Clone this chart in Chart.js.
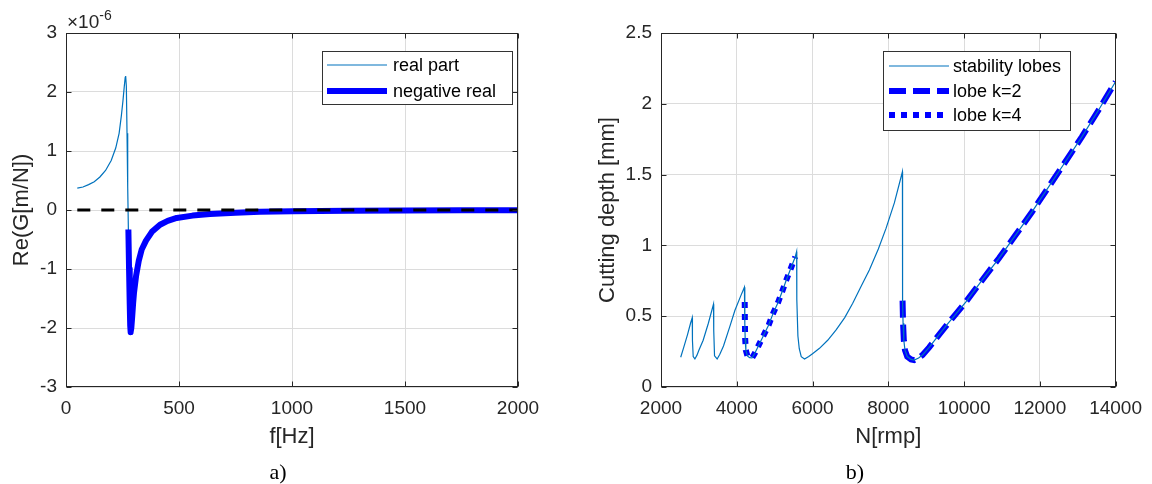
<!DOCTYPE html>
<html>
<head>
<meta charset="utf-8">
<script src="https://cdn.jsdelivr.net/npm/chart.js@4.4.0/dist/chart.umd.min.js"></script>
<style>
  html, body { margin: 0; padding: 0; background: #fff; }
  #wrap { position: relative; width: 1152px; height: 484px; overflow: hidden; }
  canvas { position: absolute; top: 0; }
  #cA { left: 0; }
  #cB { left: 560px; }
  .cap { position: absolute; top: 461px; width: 60px; text-align: center;
         font: 22px/22px "Liberation Serif", "DejaVu Serif", serif; color: #000; }
</style>
</head>
<body>
<div id="wrap">
  <canvas id="cA" width="560" height="484"></canvas>
  <canvas id="cB" width="592" height="484"></canvas>
  <div class="cap" style="left:248px">a)</div>
  <div class="cap" style="left:825px">b)</div>
</div>
<script>
// ---- DATA ----
// a) real part of the FRF, values in 1e-6 m/N
const fTicks = [0, 500, 1000, 1500, 2000];
const gTicks = [-3, -2, -1, 0, 1, 2, 3];

const realF = [50, 75, 100, 125, 150, 175, 200, 220, 235, 245, 252, 258, 262, 264, 267, 270, 273,
  276, 279, 282, 284, 286, 289, 293, 297, 301, 310, 322, 335, 354, 380, 416, 450, 490, 560, 637,
  750, 858, 1000, 1250, 1500, 1750, 2000];
const realG = [0.37, 0.39, 0.43, 0.48, 0.56, 0.67, 0.84, 1.05, 1.30, 1.60, 1.85, 2.10, 2.25, 2.27, 2.10, 1.30, 0.40,
  -0.33, -1.00, -1.60, -1.95, -2.07, -2.00, -1.80, -1.58, -1.40, -1.12, -0.86, -0.67, -0.52, -0.37, -0.25, -0.185, -0.135, -0.095, -0.068,
  -0.045, -0.030, -0.020, -0.012, -0.008, -0.005, -0.004];

const negF = [276, 279, 282, 284, 286, 289, 293, 297, 301, 310, 322, 335, 354, 380, 416, 450, 490, 560, 637,
  750, 858, 1000, 1250, 1500, 1750, 2000];
const negG = [-0.33, -1.00, -1.60, -1.95, -2.07, -2.00, -1.80, -1.58, -1.40, -1.12, -0.86, -0.67, -0.52, -0.37, -0.25, -0.185, -0.135, -0.095, -0.068,
  -0.045, -0.030, -0.020, -0.012, -0.008, -0.005, -0.004];

const zeroF = [50, 2000];
const zeroG = [0, 0];

// b) stability lobes
const nTicks = [2000, 4000, 6000, 8000, 10000, 12000, 14000];
const dTicks = [0, 0.5, 1, 1.5, 2, 2.5];

const lobeN = [2520, 2600, 2700, 2780, 2825, 2830, 2850, 2895, 2950, 3000, 3113, 3250, 3386, 3392, 3413,
  3482, 3550, 3650, 3816, 3950, 4100, 4202, 4210, 4215, 4222, 4240, 4280, 4340, 4403, 4480,
  4561, 4700, 4842, 4960, 5087, 5200, 5308, 5430, 5545, 5580, 5585, 5614, 5650, 5702, 5789,
  5900, 6000, 6184, 6400, 6623, 6850, 7061, 7280, 7500, 7737, 7940, 8160, 8373, 8377, 8390,
  8410, 8440, 8500, 8600, 8684, 8800, 8903, 9079, 9300, 9550, 9782, 10044, 10482, 10921, 11360,
  11798, 12237, 12675, 13113, 13552, 13947, 14000];
const lobeD = [0.21, 0.28, 0.37, 0.45, 0.49, 0.33, 0.215, 0.198, 0.225, 0.26, 0.33, 0.45, 0.585, 0.40, 0.22,
  0.198, 0.23, 0.29, 0.426, 0.54, 0.64, 0.705, 0.60, 0.45, 0.34, 0.26, 0.22, 0.207, 0.205, 0.24,
  0.285, 0.36, 0.438, 0.52, 0.595, 0.675, 0.756, 0.84, 0.92, 0.956, 0.62, 0.36, 0.27, 0.214, 0.198,
  0.215, 0.235, 0.273, 0.33, 0.403, 0.49, 0.591, 0.71, 0.826, 0.975, 1.12, 1.30, 1.52, 0.61, 0.45,
  0.33, 0.26, 0.215, 0.195, 0.19, 0.205, 0.226, 0.28, 0.355, 0.44, 0.515, 0.60, 0.756, 0.909, 1.073,
  1.238, 1.415, 1.591, 1.768, 1.956, 2.133, 2.155];

const k4N = [4210, 4215, 4222, 4240, 4280, 4340, 4403, 4480, 4561, 4700, 4842, 4960, 5087, 5200, 5308, 5430, 5545];
const k4D = [0.60, 0.45, 0.34, 0.26, 0.22, 0.207, 0.205, 0.24, 0.285, 0.36, 0.438, 0.52, 0.595, 0.675, 0.756, 0.84, 0.92];

const k2N = [8377, 8390, 8410, 8440, 8500, 8600, 8684, 8800, 8903, 9079, 9300, 9550, 9782, 10044, 10482,
  10921, 11360, 11798, 12237, 12675, 13113, 13552, 13947, 14000];
const k2D = [0.61, 0.45, 0.33, 0.26, 0.215, 0.195, 0.19, 0.205, 0.226, 0.28, 0.355, 0.44, 0.515, 0.60, 0.756,
  0.909, 1.073, 1.238, 1.415, 1.591, 1.768, 1.956, 2.133, 2.155];

// ---- UTILS ----
const INK = '#262626';
Chart.defaults.font.family = '"Liberation Sans", Arial, sans-serif';
Chart.defaults.color = INK;

function pts(xs, ys) {
  return xs.map((x, i) => ({ x: x, y: ys[i] }));
}

// box round the axes, inward ticks, legend and exponent label
const frame = {
  id: 'frame',
  afterDatasetsDraw(chart, args, o) {
    const { ctx, chartArea: a, scales } = chart;
    const L = Math.round(a.left) + 0.5, R = Math.round(a.right) - 0.5;
    const T = Math.round(a.top) + 0.5, B = Math.round(a.bottom) - 0.5;
    ctx.save();
    ctx.strokeStyle = INK;
    ctx.lineWidth = 1;
    ctx.setLineDash([]);
    ctx.strokeRect(L, T, R - L, B - T);
    ctx.beginPath();
    scales.x.ticks.forEach(t => {
      const px = Math.round(scales.x.getPixelForValue(t.value)) + 0.5;
      ctx.moveTo(px, B); ctx.lineTo(px, B - 5);
      ctx.moveTo(px, T); ctx.lineTo(px, T + 5);
    });
    scales.y.ticks.forEach(t => {
      const py = Math.round(scales.y.getPixelForValue(t.value)) + 0.5;
      ctx.moveTo(L, py); ctx.lineTo(L + 5, py);
      ctx.moveTo(R, py); ctx.lineTo(R - 5, py);
    });
    ctx.stroke();

    const lg = o.legend;
    ctx.fillStyle = '#fff';
    ctx.fillRect(lg.x, lg.y, lg.w, lg.h);
    ctx.strokeStyle = '#333';
    ctx.strokeRect(lg.x + 0.5, lg.y + 0.5, lg.w, lg.h);
    ctx.font = '18px "Liberation Sans", Arial, sans-serif';
    ctx.textBaseline = 'middle';
    ctx.textAlign = 'left';
    lg.rows.forEach(r => {
      const ds = chart.data.datasets.find(d => d.label === r.label);
      ctx.beginPath();
      ctx.strokeStyle = ds.borderColor;
      ctx.lineWidth = ds.borderWidth;
      ctx.setLineDash(ds.borderDash || []);
      ctx.moveTo(lg.x0, r.y);
      ctx.lineTo(lg.x1, r.y);
      ctx.stroke();
      ctx.fillStyle = '#000';
      ctx.fillText(r.label, lg.tx, r.y + 1);
    });
    ctx.setLineDash([]);

    if (o.exp) {
      ctx.fillStyle = INK;
      ctx.textBaseline = 'alphabetic';
      ctx.font = '19px "Liberation Sans", Arial, sans-serif';
      ctx.fillText(o.exp.base, o.exp.x, o.exp.y);
      const w = ctx.measureText(o.exp.base).width;
      ctx.font = '14px "Liberation Sans", Arial, sans-serif';
      ctx.fillText(o.exp.sup, o.exp.x + w, o.exp.y - 8);
    }
    ctx.restore();
  }
};

function axis(min, max, tickList, title, isY, fit, titlePad) {
  return {
    type: 'linear',
    min: min,
    max: max,
    afterBuildTicks: s => { s.ticks = tickList.map(v => ({ value: v })); },
    afterFit: s => { if (isY) s.width = fit; else s.height = fit; },
    grid: { color: '#dcdcdc', lineWidth: 1, drawTicks: false },
    border: { display: false },
    ticks: {
      color: INK,
      font: { size: 19 },
      padding: isY ? 9 : 10,
      maxRotation: 0,
      callback: v => String(v)
    },
    title: {
      display: true,
      text: title,
      color: INK,
      font: { size: 22 },
      padding: isY ? { top: titlePad, bottom: 0 } : { top: 0, bottom: 0 }
    }
  };
}

// ---- CHART a) ----
new Chart(document.getElementById('cA'), {
  type: 'line',
  data: {
    datasets: [
      { label: 'zero', data: pts(zeroF, zeroG), borderColor: '#000', borderWidth: 3, borderDash: [13, 11] },
      { label: 'negative real', data: pts(negF, negG), borderColor: '#0000ff', borderWidth: 6, borderJoinStyle: 'round' },
      { label: 'real part', data: pts(realF, realG), borderColor: '#0072bd', borderWidth: 1.2 }
    ]
  },
  options: {
    responsive: false,
    animation: false,
    layout: { padding: { left: 0, right: 42, top: 33, bottom: 34 } },
    elements: { point: { radius: 0 }, line: { tension: 0 } },
    plugins: {
      legend: { display: false },
      tooltip: { enabled: false },
      frame: {
        legend: { x: 322, y: 51, w: 190, h: 53, x0: 327, x1: 387, tx: 393,
                  rows: [{ label: 'real part', y: 65 }, { label: 'negative real', y: 91 }] },
        exp: { base: '×10', sup: '-6', x: 67, y: 28 }
      }
    },
    scales: {
      x: axis(0, 2000, fTicks, 'f[Hz]', false, 63, 0),
      y: axis(-3, 3, gTicks, 'Re(G[m/N])', true, 66, 9)
    }
  },
  plugins: [frame]
});

// ---- CHART b) ----
new Chart(document.getElementById('cB'), {
  type: 'line',
  data: {
    datasets: [
      { label: 'stability lobes', data: pts(lobeN, lobeD), borderColor: '#0072bd', borderWidth: 1.2 },
      { label: 'lobe k=2', data: pts(k2N, k2D), borderColor: '#0000ff', borderWidth: 6, borderDash: [17, 7] },
      { label: 'lobe k=4', data: pts(k4N, k4D), borderColor: '#0000ff', borderWidth: 6, borderDash: [6, 6] }
    ]
  },
  options: {
    responsive: false,
    animation: false,
    layout: { padding: { left: 0, right: 35, top: 33, bottom: 34 } },
    elements: { point: { radius: 0 }, line: { tension: 0 } },
    plugins: {
      legend: { display: false },
      tooltip: { enabled: false },
      frame: {
        legend: { x: 323, y: 51, w: 187, h: 79, x0: 329, x1: 389, tx: 393,
                  rows: [{ label: 'stability lobes', y: 66 }, { label: 'lobe k=2', y: 91 }, { label: 'lobe k=4', y: 115 }] }
      }
    },
    scales: {
      x: axis(2000, 14000, nTicks, 'N[rmp]', false, 63, 0),
      y: axis(0, 2.5, dTicks, 'Cutting depth [mm]', true, 101, 35)
    }
  },
  plugins: [frame]
});
</script>
</body>
</html>
